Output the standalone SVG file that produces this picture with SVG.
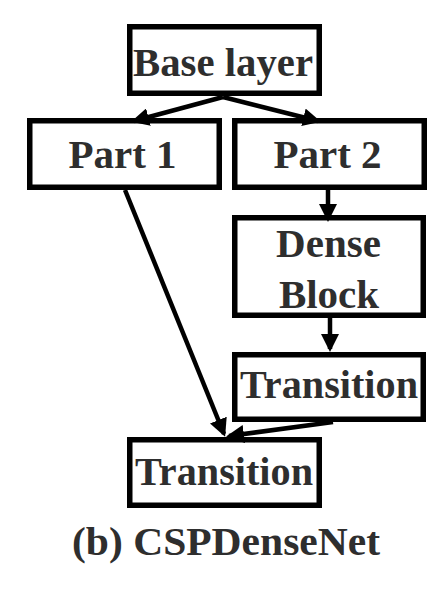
<svg xmlns="http://www.w3.org/2000/svg" width="445" height="594" viewBox="0 0 445 594">
<style>
.box{fill:#fff;stroke:#000;stroke-width:5.5}
.lbl{font-family:"Liberation Serif","Times New Roman",serif;font-weight:bold;font-size:41px;fill:#2e2e2e;text-anchor:middle}
.edge{stroke:#000;stroke-width:4.5;fill:none;marker-end:url(#ah)}
</style>
<defs>
<marker id="ah" viewBox="0 0 18 18" refX="15" refY="9" markerWidth="18" markerHeight="18" markerUnits="userSpaceOnUse" orient="auto">
<path d="M0,0 L18,9 L0,18 z" fill="#000"/>
</marker>
</defs>
<rect width="445" height="594" fill="#fff"/>
<g id="base">
<rect class="box" x="129.75" y="26.75" width="189.5" height="66.5"/>
<text class="lbl" x="223" y="76" textLength="180" lengthAdjust="spacingAndGlyphs">Base layer</text>
</g>
<g id="part1">
<rect class="box" x="29.75" y="120.75" width="189.5" height="66.5"/>
<text class="lbl" x="122.5" y="168">Part 1</text>
</g>
<g id="part2">
<rect class="box" x="234.75" y="120.75" width="189.5" height="66.5"/>
<text class="lbl" x="327.5" y="168">Part 2</text>
</g>
<g id="dense">
<rect class="box" x="234.75" y="217.75" width="188.5" height="97.5"/>
<text class="lbl" x="328.5" y="257">Dense</text>
<text class="lbl" x="329" y="308">Block</text>
</g>
<g id="transition1">
<rect class="box" x="234.75" y="354.75" width="188.5" height="64.5"/>
<text class="lbl" x="329" y="398" textLength="178" lengthAdjust="spacingAndGlyphs">Transition</text>
</g>
<g id="transition2">
<rect class="box" x="129.75" y="439.75" width="189.5" height="65.5"/>
<text class="lbl" x="224" y="485" textLength="178" lengthAdjust="spacingAndGlyphs">Transition</text>
</g>
<g id="connectors">
<line class="edge" x1="223" y1="97" x2="134" y2="121"/>
<line class="edge" x1="223" y1="97" x2="318" y2="121"/>
<line class="edge" x1="328" y1="190" x2="328" y2="219"/>
<line class="edge" x1="330" y1="318" x2="330" y2="349"/>
<line class="edge" x1="125" y1="190" x2="224" y2="434"/>
<line class="edge" x1="333" y1="422" x2="229" y2="436"/>
</g>
<text id="caption" class="lbl" x="226" y="555" textLength="308" lengthAdjust="spacingAndGlyphs">(b) CSPDenseNet</text>
</svg>
